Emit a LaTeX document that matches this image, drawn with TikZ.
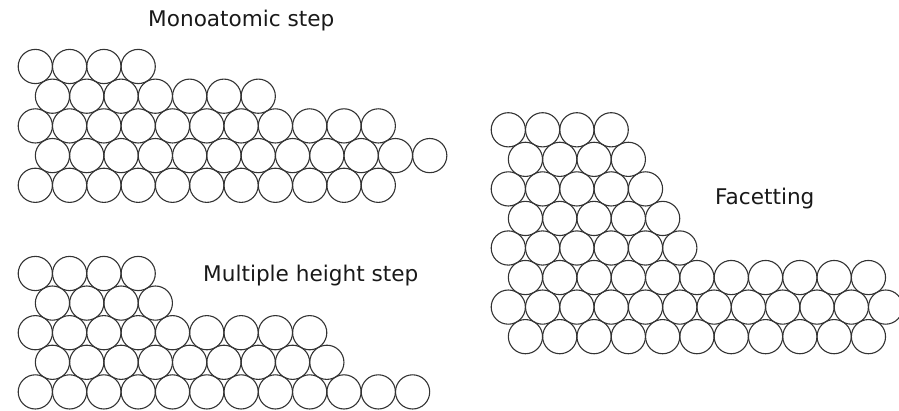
\documentclass[tikz,border=0pt]{standalone}
\usepackage{fontspec}
\setmainfont{DejaVu Sans}
\begin{document}
\begin{tikzpicture}[x=1pt,y=-1pt,
  atom/.style={draw=black!80,line width=1.1pt},
  caption/.style={anchor=base west,inner sep=0pt,font=\fontsize{21.6}{24}\selectfont,text=black!90}]
\useasboundingbox (0,0) rectangle (899,411);
% one close-packed row: start x, y, number of atoms
\newcommand\atomrow[3]{%
  \foreach \i in {1,...,#3}{\draw[atom] ({#1+(\i-1)*34.3},#2) circle (17.1);}}
% monoatomic step
\atomrow{35.3}{66.5}{4}
\atomrow{52.45}{96.2}{7}
\atomrow{35.3}{125.9}{11}
\atomrow{52.45}{155.6}{12}
\atomrow{35.3}{185.3}{11}
\node[caption] (mono) at (148,26.7) {Monoatomic step};
% multiple height step
\atomrow{35.3}{273.5}{4}
\atomrow{52.45}{303.1}{4}
\atomrow{35.3}{332.7}{9}
\atomrow{52.45}{362.3}{9}
\atomrow{35.3}{391.9}{12}
\node[caption] (multi) at (203,281.7) {Multiple height step};
% facetted surface
\atomrow{508.3}{129.8}{4}
\atomrow{525.45}{159.35}{4}
\atomrow{508.3}{188.9}{5}
\atomrow{525.45}{218.45}{5}
\atomrow{508.3}{248}{6}
\atomrow{525.45}{277.55}{11}
\atomrow{508.3}{307.1}{12}
\atomrow{525.45}{336.65}{11}
\node[caption] (facet) at (715,205) {Facetting};
\end{tikzpicture}
\end{document}
